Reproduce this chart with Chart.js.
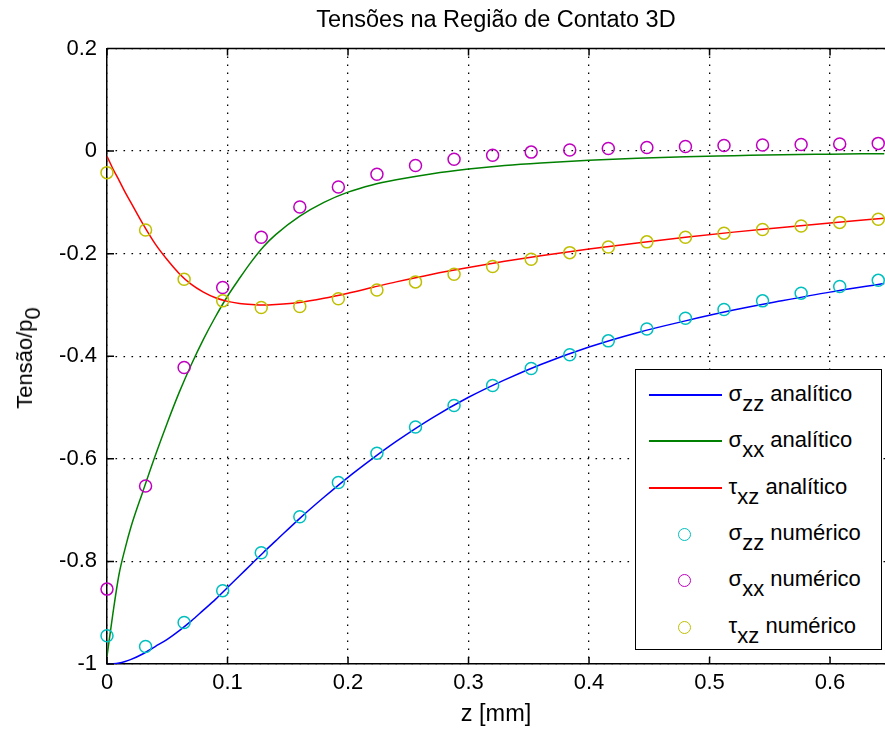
<!DOCTYPE html>
<html>
<head>
<meta charset="utf-8">
<title>Tensões na Região de Contato 3D</title>
<script src="https://cdn.jsdelivr.net/npm/chart.js@4/dist/chart.umd.min.js"></script>
<style>
  html, body { margin: 0; padding: 0; background: #fff; overflow: hidden; }
  #wrap { position: relative; width: 885px; height: 731px; }
  canvas { display: block; }
  .txt { font-family: "Liberation Sans", Arial, Helvetica, sans-serif; font-size: 22px; color: #000; white-space: nowrap; line-height: 26px; }
  .txt sub { font-size: 22px; vertical-align: baseline; position: relative; line-height: 26px; }
  #ylab { position: absolute; left: 25px; top: 358px; transform: translate(-50%, -50%) rotate(-90deg); }
  #ylab sub { top: 8px; }
  #legend { position: absolute; left: 635px; top: 369px; width: 247px; height: 281px;
            border: 1.4px solid #000; background: #fff; box-sizing: border-box; }
  .row { position: absolute; left: 0; height: 0; width: 100%; }
  .sample { position: absolute; left: 13px; width: 73px; top: -1px; height: 2px; }
  .mk { position: absolute; left: 42px; top: -6.5px; width: 13px; height: 13px; box-sizing: border-box;
        border: 1.5px solid; border-radius: 50%; }
  .lbl { position: absolute; left: 92.6px; top: -13.9px; }
  .lbl sub { top: 10px; }
</style>
</head>
<body>
<div id="wrap">
  <canvas id="chart" width="885" height="731"></canvas>
  <div id="ylab" class="txt">Tensão/p<sub>0</sub></div>
  <div id="legend" class="txt"></div>
</div>
<script>
// Depth below the contact surface, mm (analytic curves)
const zLine = [0, 0.005, 0.01, 0.015, 0.02, 0.03, 0.04, 0.05, 0.06, 0.07, 0.08, 0.09, 0.10, 0.11, 0.12, 0.13,
               0.14, 0.16, 0.18, 0.20, 0.22, 0.24, 0.27, 0.30, 0.33, 0.36, 0.40, 0.44, 0.48, 0.52, 0.56, 0.60, 0.645];

// Analytic solution, stress / p0
const szzAnalitico = [-1.000, -0.9995, -0.998, -0.995, -0.991, -0.980, -0.966, -0.952, -0.935, -0.916, -0.895, -0.874, -0.851, -0.828, -0.805, -0.782,
                      -0.760, -0.716, -0.675, -0.636, -0.600, -0.566, -0.520, -0.480, -0.446, -0.416, -0.382, -0.354, -0.331, -0.310, -0.292, -0.275, -0.258];
const sxxAnalitico = [-0.985, -0.900, -0.825, -0.775, -0.732, -0.662, -0.594, -0.530, -0.470, -0.416, -0.367, -0.323, -0.283, -0.248, -0.215, -0.186,
                      -0.163, -0.127, -0.100, -0.080, -0.066, -0.056, -0.044, -0.035, -0.028, -0.023, -0.018, -0.014, -0.011, -0.009, -0.007, -0.006, -0.005];
const txzAnalitico = [-0.010, -0.035, -0.057, -0.080, -0.101, -0.143, -0.181, -0.212, -0.239, -0.260, -0.275, -0.286, -0.293, -0.297, -0.299, -0.300,
                      -0.299, -0.295, -0.287, -0.277, -0.266, -0.255, -0.240, -0.227, -0.215, -0.204, -0.191, -0.179, -0.168, -0.158, -0.149, -0.140, -0.131];

// Depth of the numerical (FE) sampling points, mm
const zNum = [0, 0.032, 0.064, 0.096, 0.128, 0.160, 0.192, 0.224, 0.256, 0.288, 0.320,
              0.352, 0.384, 0.416, 0.448, 0.480, 0.512, 0.544, 0.576, 0.608, 0.640];

// Numerical solution, stress / p0
const szzNumerico = [-0.945, -0.966, -0.919, -0.857, -0.783, -0.713, -0.646, -0.589, -0.538, -0.496, -0.457,
                     -0.424, -0.397, -0.370, -0.347, -0.326, -0.309, -0.292, -0.277, -0.264, -0.252];
const sxxNumerico = [-0.854, -0.653, -0.422, -0.266, -0.168, -0.109, -0.070, -0.045, -0.028, -0.016, -0.008,
                     -0.002, 0.002, 0.005, 0.007, 0.009, 0.011, 0.012, 0.013, 0.014, 0.015];
const txzNumerico = [-0.042, -0.154, -0.250, -0.292, -0.305, -0.303, -0.288, -0.271, -0.255, -0.240, -0.225,
                     -0.211, -0.198, -0.187, -0.177, -0.168, -0.160, -0.153, -0.146, -0.139, -0.133];

// Axis ticks
const xTicks = [0, 0.1, 0.2, 0.3, 0.4, 0.5, 0.6];
const xTickLabels = ['0', '0.1', '0.2', '0.3', '0.4', '0.5', '0.6'];
const yTicks = [-1, -0.8, -0.6, -0.4, -0.2, 0, 0.2];
const yTickLabels = ['-1', '-0.8', '-0.6', '-0.4', '-0.2', '0', '0.2'];

const FONT = '"Liberation Sans", Arial, Helvetica, sans-serif';
const C = { blue: '#0000ff', green: '#008000', red: '#ff0000', cyan: '#00bfbf', magenta: '#bf00bf', olive: '#bfbf00' };

const pts = (xs, ys) => xs.map((x, i) => ({ x: x, y: ys[i] }));
const labelFor = (ticks, labels) => v => {
  const i = ticks.findIndex(t => Math.abs(t - v) < 1e-9);
  return i >= 0 ? labels[i] : '';
};

function lineSet(label, ys, color, order) {
  return { label, data: pts(zLine, ys), showLine: true, borderColor: color, borderWidth: 1.5,
           pointRadius: 0, pointHoverRadius: 0, cubicInterpolationMode: 'monotone', fill: false, order };
}
function markSet(label, ys, color, order) {
  return { label, data: pts(zNum, ys), showLine: false, borderColor: color, backgroundColor: 'rgba(0,0,0,0)',
           pointStyle: 'circle', pointRadius: 6, pointBorderWidth: 1.5, pointHoverRadius: 6, clip: false, order };
}

// Axes frame: top edge and inward tick marks
const framePlugin = {
  id: 'frame',
  afterDraw(chart) {
    const { ctx, chartArea: a, scales: { x, y } } = chart;
    const len = 7;
    ctx.save();
    ctx.strokeStyle = '#000';
    ctx.lineWidth = 1.5;
    ctx.beginPath();
    ctx.moveTo(a.left, a.top); ctx.lineTo(a.right, a.top);
    xTicks.forEach(t => {
      const px = x.getPixelForValue(t);
      ctx.moveTo(px, a.bottom); ctx.lineTo(px, a.bottom - len);
      ctx.moveTo(px, a.top); ctx.lineTo(px, a.top + len);
    });
    yTicks.forEach(t => {
      const py = y.getPixelForValue(t);
      ctx.moveTo(a.left, py); ctx.lineTo(a.left + len, py);
    });
    ctx.stroke();
    ctx.restore();
  }
};

new Chart(document.getElementById('chart'), {
  type: 'scatter',
  data: {
    datasets: [
      lineSet('σzz analítico', szzAnalitico, C.blue, 6),
      lineSet('σxx analítico', sxxAnalitico, C.green, 5),
      lineSet('τxz analítico', txzAnalitico, C.red, 4),
      markSet('σzz numérico', szzNumerico, C.cyan, 3),
      markSet('σxx numérico', sxxNumerico, C.magenta, 2),
      markSet('τxz numérico', txzNumerico, C.olive, 1)
    ]
  },
  options: {
    responsive: false,
    animation: false,
    layout: { padding: 0, autoPadding: false },
    plugins: {
      legend: { display: false },
      tooltip: { enabled: false },
      title: {
        display: true,
        text: 'Tensões na Região de Contato 3D',
        fullSize: false,
        color: '#000',
        font: { family: FONT, size: 23.5, weight: 'normal', lineHeight: 1.2 },
        padding: { top: 6, bottom: 14.3 }
      }
    },
    scales: {
      x: {
        type: 'linear',
        min: 0,
        max: 0.6456,
        afterFit: s => { s.height = 67; },
        afterBuildTicks: s => { s.ticks = xTicks.map(v => ({ value: v })); },
        ticks: {
          includeBounds: false,
          color: '#000',
          padding: 6,
          maxRotation: 0,
          autoSkip: false,
          font: { family: FONT, size: 22, lineHeight: 1.2 },
          callback: labelFor(xTicks, xTickLabels)
        },
        grid: { color: '#000', lineWidth: 1.3, drawTicks: false },
        border: { display: true, color: '#000', width: 1.5, dash: [1.6, 6.4] },
        title: {
          display: true,
          text: 'z [mm]',
          color: '#000',
          font: { family: FONT, size: 23.5, lineHeight: 1.2 },
          padding: { top: 0, bottom: 2 }
        }
      },
      y: {
        type: 'linear',
        min: -1,
        max: 0.2,
        afterFit: s => { s.width = 107; },
        afterBuildTicks: s => { s.ticks = yTicks.map(v => ({ value: v })); },
        ticks: {
          includeBounds: false,
          color: '#000',
          padding: 10,
          autoSkip: false,
          font: { family: FONT, size: 22, lineHeight: 1.2 },
          callback: labelFor(yTicks, yTickLabels)
        },
        grid: { color: '#000', lineWidth: 1.3, drawTicks: false },
        border: { display: true, color: '#000', width: 1.5, dash: [1.6, 6.4] }
      }
    }
  },
  plugins: [framePlugin]
});

// Legend (HTML so the subscripts render as text)
const legendItems = [
  { sym: 'σ', sub: 'zz', word: 'analítico', color: C.blue, kind: 'line' },
  { sym: 'σ', sub: 'xx', word: 'analítico', color: C.green, kind: 'line' },
  { sym: 'τ', sub: 'xz', word: 'analítico', color: C.red, kind: 'line' },
  { sym: 'σ', sub: 'zz', word: 'numérico', color: C.cyan, kind: 'mark' },
  { sym: 'σ', sub: 'xx', word: 'numérico', color: C.magenta, kind: 'mark' },
  { sym: 'τ', sub: 'xz', word: 'numérico', color: C.olive, kind: 'mark' }
];
const legend = document.getElementById('legend');
const rowTops = [25, 71, 118, 164, 210, 257];
legendItems.forEach((it, i) => {
  const row = document.createElement('div');
  row.className = 'row';
  row.style.top = rowTops[i] + 'px';
  const sw = document.createElement('div');
  if (it.kind === 'line') {
    sw.className = 'sample';
    sw.style.backgroundColor = it.color;
  } else {
    sw.className = 'mk';
    sw.style.borderColor = it.color;
  }
  row.appendChild(sw);
  const lbl = document.createElement('div');
  lbl.className = 'lbl';
  lbl.innerHTML = it.sym + '<sub>' + it.sub + '</sub> ' + it.word;
  row.appendChild(lbl);
  legend.appendChild(row);
});
</script>
</body>
</html>
